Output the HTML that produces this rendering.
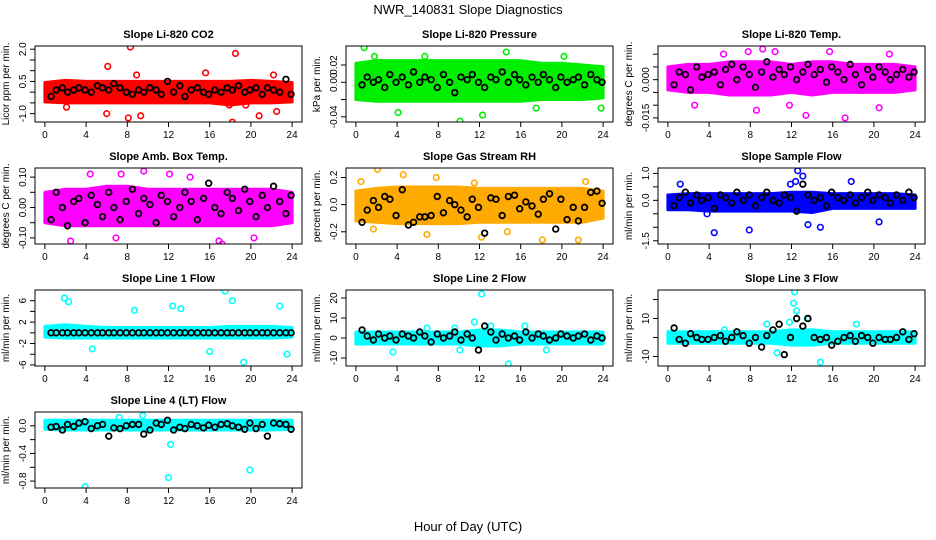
<!DOCTYPE html>
<html><head><meta charset="utf-8"><style>
body{margin:0;background:#fff;}
svg{display:block;font-family:"Liberation Sans",sans-serif;}
</style></head><body>
<svg id="chart" width="936" height="540" viewBox="0 0 936 540" xmlns="http://www.w3.org/2000/svg">
<text x="468" y="14" text-anchor="middle" font-size="13">NWR_140831  Slope Diagnostics</text>
<text x="468" y="531" text-anchor="middle" font-size="13">Hour of Day (UTC)</text>
</svg>
<script>
// ---- data ----
const titles = ["Slope Li-820 CO2","Slope Li-820 Pressure","Slope Li-820 Temp.","Slope Amb. Box Temp.","Slope Gas Stream RH","Slope Sample Flow","Slope Line 1 Flow","Slope Line 2 Flow","Slope Line 3 Flow","Slope Line 4 (LT) Flow"];
const ylabs = ["Licor ppm per min.","kPa per min.","degrees C per min.","degrees C per min.","percent per min.","ml/min per min.","ml/min per min.","ml/min per min.","ml/min per min.","ml/min per min."];
const colors = ["#ff0000","#00ee00","#ff00ff","#ff00ff","#ffaa00","#0000ff","#00ffff","#00ffff","#00ffff","#00ffff"];
const yMin = [-1.39,-0.046,-0.0166,-0.12,-0.29,-1.62,-6.2,-14,-15,-0.9];
const yMax = [2.15,0.042,0.0132,0.13,0.27,1.2,8,24,25,0.2];
const yTicks = [[-1.0,-0.5,0,0.5,1.0,1.5,2.0],[-0.04,-0.02,0,0.02],[-0.015,-0.010,-0.005,0,0.005,0.010],[-0.10,-0.05,0,0.05,0.10],[-0.2,0,0.2],[-1.5,-1.0,-0.5,0,0.5,1.0],[-6,-4,-2,0,2,4,6],[-10,0,10,20],[-10,0,10,20],[-0.8,-0.6,-0.4,-0.2,0]];
const yTickLabels = [["-1.0","","","0.5","","","2.0"],["-0.04","","0.00","0.02"],["-0.015","","","0.000","",""],["-0.10","","0.00","","0.10"],["-0.2","0.0","0.2"],["-1.5","","","0.0","","1.0"],["-6","","-2","","2","","6"],["-10","0","10","20"],["-10","","10",""],["-0.8","","-0.4","","0.0"]];
const xTicks = [0,4,8,12,16,20,24];
const bandHours = [0,2,4,6,8,10,12,14,16,18,20,22,24];
const bandLo = [[-0.45,-0.5,-0.5,-0.5,-0.5,-0.5,-0.5,-0.5,-0.5,-0.6,-0.5,-0.5,-0.45],[-0.02,-0.022,-0.022,-0.022,-0.022,-0.022,-0.022,-0.022,-0.022,-0.02,-0.02,-0.02,-0.018],[-0.004,-0.005,-0.005,-0.006,-0.006,-0.006,-0.005,-0.006,-0.005,-0.005,-0.005,-0.005,-0.004],[-0.05,-0.06,-0.06,-0.06,-0.06,-0.06,-0.06,-0.06,-0.06,-0.06,-0.06,-0.06,-0.05],[-0.12,-0.13,-0.14,-0.14,-0.14,-0.14,-0.13,-0.13,-0.13,-0.13,-0.13,-0.13,-0.1],[-0.35,-0.35,-0.4,-0.4,-0.4,-0.4,-0.4,-0.45,-0.3,-0.3,-0.3,-0.3,-0.3],[-0.8,-1.0,-1.0,-1.0,-1.0,-1.0,-1.0,-1.0,-1.0,-1.0,-1.0,-1.0,-0.8],[-3,-3,-3,-3,-3,-3,-4,-4,-3,-3,-3,-3,-3],[-3,-3,-3,-3,-3,-3,-4,-4,-3,-3,-3,-3,-3],[-0.05,-0.06,-0.06,-0.06,-0.06,-0.06,-0.06,-0.06,-0.06,-0.06,-0.06,-0.06,-0.05]];
const bandHi = [[0.45,0.55,0.5,0.5,0.5,0.5,0.5,0.5,0.5,0.5,0.55,0.5,0.45],[0.022,0.025,0.025,0.025,0.025,0.025,0.025,0.025,0.025,0.022,0.022,0.02,0.018],[0.005,0.006,0.006,0.007,0.007,0.007,0.006,0.007,0.007,0.006,0.006,0.006,0.005],[0.05,0.06,0.06,0.07,0.07,0.06,0.06,0.06,0.06,0.06,0.06,0.06,0.05],[0.1,0.12,0.13,0.13,0.13,0.13,0.12,0.12,0.12,0.12,0.12,0.12,0.1],[0.2,0.25,0.25,0.25,0.25,0.25,0.3,0.3,0.25,0.25,0.25,0.25,0.2],[1.2,1.5,1.2,1.0,1.0,1.0,1.0,1.0,1.0,1.2,1.2,1.2,1.0],[3,3,3,3,3,3,4,4,3,3,3,3,3],[3,3,3,3,3,3,4,4,3,3,3,3,3],[0.08,0.08,0.08,0.08,0.08,0.08,0.08,0.08,0.08,0.08,0.08,0.08,0.08]];
const outX = [[8.3,18.5,6.1,2.1,6.0,8.1,9.3,18.2,20.8,22.5,15.6,19.5,17.9,8.9,22.2],[0.8,1.8,10.1,12.3,20.2,23.8,4.1,14.6,17.5,6.7],[9.2,10.4,7.8,13.4,17.2,5.4,20.5,2.6,11.8,15.7,21.5,8.6],[9.6,12.1,2.5,6.9,16.9,17.2,4.4,14.1,20.3,7.4],[2.1,4.6,7.8,12.2,18.1,21.6,1.7,0.5,6.9,11.5,22.3,14.7],[12.6,13.1,12.4,13.6,7.9,4.5,14.8,11.9,3.8,20.5,1.2,17.8],[1.9,2.3,17.5,12.4,13.2,18.2,23.5,8.7,22.8,4.6,16.0,19.3],[12.2,14.8,11.5,13.1,9.6,10.1,16.4,3.6,6.9,18.5],[12.3,12.2,12.5,14.8,11.8,13.5,9.6,10.6,5.5,18.3],[3.9,12.0,19.9,12.2,9.5,7.2]];
const outY = [[2.1,1.8,1.2,-0.7,-1.0,-1.2,-1.1,-1.4,-1.1,-0.9,0.9,-0.6,-0.6,0.8,0.8],[0.04,0.03,-0.045,-0.038,0.03,-0.03,-0.035,0.035,-0.03,0.03],[0.012,0.011,0.011,-0.014,-0.015,0.01,-0.011,-0.01,-0.01,0.011,0.01,-0.012],[0.12,0.11,-0.11,-0.1,-0.11,-0.12,0.11,0.1,-0.1,0.11],[0.26,0.22,0.2,-0.24,-0.26,-0.26,-0.18,0.17,-0.22,0.16,0.17,-0.2],[1.1,0.9,0.7,-0.9,-1.1,-1.2,-1.0,0.6,-0.5,-0.8,0.6,0.7],[6.5,5.8,7.8,5.0,4.5,6.0,-4.0,4.2,5.0,-3.0,-3.5,-5.5],[22,-13,8,6,5,-6,6,-7,5,-6],[24,18,14,-13,8,10,7,-8,4,7],[-0.88,-0.75,-0.64,-0.27,0.15,0.12]];
const blackHours = [0.6,1.1,1.7,2.2,2.8,3.3,3.9,4.5,5.1,5.6,6.2,6.7,7.3,7.9,8.5,9.1,9.6,10.2,10.8,11.3,11.9,12.5,13.1,13.6,14.2,14.8,15.4,15.9,16.5,17.1,17.7,18.2,18.8,19.4,19.9,20.5,21.1,21.6,22.2,22.8,23.4,23.9];
const blackVals = [
[-0.2,0.1,0.2,0.0,0.1,0.2,0.1,0.0,0.3,0.2,0.1,0.4,0.2,0.0,-0.1,0.1,0.0,0.2,0.1,-0.1,0.5,0.0,0.3,-0.2,0.1,0.2,0.0,-0.1,0.1,0.0,0.2,0.1,0.3,0.0,0.1,0.2,-0.1,0.2,0.1,0.0,0.6,-0.1],
[-0.003,0.006,0.0,0.003,-0.006,0.009,0.0,0.006,-0.003,0.012,0.0,0.006,0.003,-0.006,0.009,0.0,-0.012,0.006,0.003,0.009,0.0,-0.006,0.006,0.003,0.012,0.0,0.009,0.003,-0.003,0.006,0.0,0.009,0.003,-0.006,0.006,0.0,0.003,0.006,-0.003,0.009,0.003,0.0],
[-0.002,0.003,0.002,-0.004,0.005,0.001,0.002,0.003,-0.002,0.004,0.006,0.0,0.005,0.002,-0.003,0.003,0.007,0.001,0.004,0.002,0.005,0.0,0.003,0.006,0.002,0.004,-0.001,0.005,0.003,0.0,0.006,0.002,-0.002,0.004,0.001,0.005,0.003,0.0,0.002,0.004,0.001,0.003],
[-0.04,0.05,0.0,-0.06,0.02,0.03,-0.05,0.04,0.01,-0.03,0.05,0.0,-0.04,0.02,0.06,-0.02,0.03,0.01,-0.05,0.04,0.02,-0.03,0.0,0.05,0.02,-0.04,0.03,0.08,0.0,-0.02,0.05,0.03,-0.01,0.06,0.02,-0.03,0.04,0.0,0.07,0.02,-0.02,0.04],
[-0.13,-0.04,0.03,-0.02,0.06,0.04,-0.08,0.11,-0.15,-0.13,-0.09,-0.09,-0.08,0.06,-0.06,0.03,0.0,-0.04,-0.09,0.04,-0.02,-0.21,0.05,0.04,-0.08,0.06,0.07,-0.03,0.02,-0.01,-0.07,0.04,0.08,-0.18,0.04,-0.11,-0.02,-0.12,-0.02,0.09,0.1,0.01],
[-0.2,0.1,0.3,-0.1,0.2,0.0,0.1,-0.3,0.2,0.1,-0.1,0.3,0.0,0.2,-0.2,0.1,0.3,0.0,-0.1,0.2,0.1,-0.4,0.6,0.2,0.0,0.1,-0.2,0.3,0.1,0.0,0.2,-0.1,0.1,0.3,0.0,0.2,0.1,-0.1,0.2,0.0,0.3,0.1],
[0,0,0,0,0,0,0,0,0,0,0,0,0,0,0,0,0,0,0,0,0,0,0,0,0,0,0,0,0,0,0,0,0,0,0,0,0,0,0,0,0,0],
[4,1,-1,2,0,1,-1,2,1,0,3,1,-2,2,0,1,3,-1,2,0,-6,6,3,-1,2,0,1,-1,3,0,2,1,-1,0,2,1,0,1,2,-1,1,0],
[5,-1,-3,2,0,-1,-1,0,1,-2,0,3,1,-3,0,-5,1,4,7,-9,0,10,6,10,0,-1,0,-4,-2,0,1,-2,1,0,-3,0,-1,-1,0,3,-1,2],
[-0.02,-0.01,-0.06,0.02,-0.01,0.04,0.06,-0.04,0.0,0.02,-0.15,-0.03,-0.04,0.0,0.02,0.02,-0.12,-0.06,0.04,0.02,0.08,-0.06,-0.02,-0.04,0.02,0.0,-0.03,0.01,-0.02,0.02,0.03,0.0,-0.02,-0.05,0.04,-0.04,0.02,-0.15,0.04,0.03,0.02,-0.05]
];
// ---- drawing ----
const NS="http://www.w3.org/2000/svg";
const svg=document.getElementById('chart');
const lefts=[35,346,658], W=267, tops=[46,168,290,412], H=76;
function mk(tag,attrs,parent){const e=document.createElementNS(NS,tag);for(const k in attrs)e.setAttribute(k,attrs[k]);(parent||svg).appendChild(e);return e;}
for(let i=0;i<titles.length;i++){
  const L=lefts[i%3], T=tops[Math.floor(i/3)];
  const g=mk('g',{});
  
  
  const sx=h=>L+W*(h+0.96)/25.92;
  const sy=v=>T+H-H*(v-yMin[i])/(yMax[i]-yMin[i]);
  const clip=mk('clipPath',{id:'c'+i},g);mk('rect',{x:L,y:T,width:W,height:H},clip);
  const data=mk('g',{'clip-path':'url(#c'+i+')'},g);
  let pts=bandHours.map((h,j)=>sx(h)+','+sy(bandHi[i][j]));
  pts=pts.concat(bandHours.slice().reverse().map((h,j)=>sx(h)+','+sy(bandLo[i][bandHours.length-1-j])));
  const band=mk('polygon',{points:pts.join(' '),fill:colors[i],stroke:colors[i],'stroke-width':3,'stroke-linejoin':'round'},data);
  
  
  outX[i].forEach((x,j)=>{
    const c=mk('circle',{cx:sx(x),cy:sy(outY[i][j]),r:2.8,fill:'none',stroke:colors[i],'stroke-width':1.6},data);
    
    
  });
  blackHours.forEach((h,j)=>{
    const c=mk('circle',{cx:sx(h),cy:sy(blackVals[i][j]),r:2.8,fill:'none',stroke:'#000','stroke-width':1.8},data);
    
    
  });
  const box=mk('rect',{x:L,y:T,width:W,height:H,fill:'none',stroke:'#000','stroke-width':1},g);
  
  
  const t=mk('text',{x:L+W/2,y:T-8,'text-anchor':'middle','font-size':11,'font-weight':'bold'},g);
  t.textContent=titles[i];
  
  
  const yl=mk('text',{x:0,y:0,'text-anchor':'middle','font-size':10,transform:`translate(${L-26},${T+H/2}) rotate(-90)`},g);
  yl.textContent=ylabs[i];
  
  
  xTicks.forEach(h=>{
    mk('line',{x1:sx(h),x2:sx(h),y1:T+H,y2:T+H+5,stroke:'#000'},g);
    const lb=mk('text',{x:sx(h),y:T+H+16,'text-anchor':'middle','font-size':10},g);
    lb.textContent=h;
    
    
  });
  yTicks[i].forEach((v,j)=>{
    mk('line',{x1:L-5,x2:L,y1:sy(v),y2:sy(v),stroke:'#000'},g);
    const lb=mk('text',{x:0,y:0,'text-anchor':'middle','font-size':10,transform:`translate(${L-9},${sy(v)}) rotate(-90)`},g);
    lb.textContent=yTickLabels[i][j];
    
    
  });
}
</script>
</body></html>
